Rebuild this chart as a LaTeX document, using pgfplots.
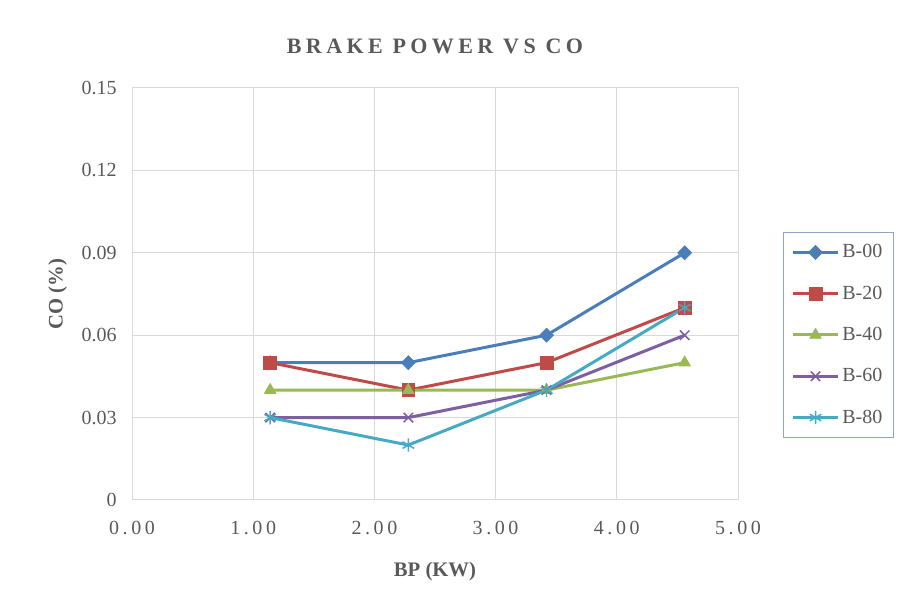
\documentclass[border=0pt]{standalone}
\usepackage{pgfplots}
\pgfplotsset{compat=1.18}
\usepackage{fontspec}
\setmainfont{Liberation Serif}
\newfontfamily\spaced{Liberation Serif}[LetterSpace=18]
\newfontfamily\spacedt{Liberation Serif}[LetterSpace=20]
\definecolor{tx}{HTML}{595959}
\definecolor{c1}{HTML}{4A7EBB}
\definecolor{c2}{HTML}{BE4B48}
\definecolor{c3}{HTML}{98B954}
\definecolor{c4}{HTML}{7D60A0}
\definecolor{c5}{HTML}{46AAC5}
\definecolor{gr}{HTML}{D9D9D9}
\begin{document}
\begin{tikzpicture}
\path[use as bounding box] (-99pt,-78.75pt) rectangle (575.25pt,375pt);
\begin{axis}[
  at={(0,0)}, anchor=south west, scale only axis,
  width=454.5pt, height=309pt,
  xmin=0, xmax=5, ymin=0, ymax=0.15,
  xtick={0,1,2,3,4,5},
  xticklabels={0.00,1.00,2.00,3.00,4.00,5.00},
  ytick={0,0.03,0.06,0.09,0.12,0.15},
  yticklabels={0,0.03,0.06,0.09,0.12,0.15},
  grid=major, major grid style={gr, line width=0.75pt},
  axis line style={gr, line width=0.75pt}, tick style={draw=none},
  ticklabel style={font=\fontsize{15}{17}\selectfont, text=tx},
  xticklabel style={font=\fontsize{15}{17}\selectfont\spaced, yshift=-12pt},
  yticklabel style={xshift=-8pt},
  title={\spacedt\bfseries BRAKE POWER VS CO},
  title style={font=\fontsize{16.5}{19}\selectfont, text=tx, at={(0.5,1)}, yshift=16pt, anchor=south},
  xlabel={\bfseries BP (KW)}, ylabel={\bfseries CO (\%)},
  label style={font=\fontsize{15.5}{18}\selectfont, text=tx},
  xlabel style={yshift=-14pt},
  ylabel style={yshift=4pt},
  legend style={at={(1.074,0.65)}, anchor=north west, draw=c1!55!gr, line width=0.75pt,
    font=\fontsize{15}{17}\selectfont, text=tx, row sep=15.5pt, inner ysep=7pt, inner xsep=6pt,
    cells={anchor=west}},
  legend cell align=left,
  legend image code/.code={\draw[#1,mark repeat=2,mark phase=2] plot coordinates {(0pt,0pt)(17pt,0pt)(34pt,0pt)};},
  every axis plot/.append style={line width=2.25pt},
]
\addplot[c1, mark=square*, mark size=3.7pt, mark options={rotate=45, fill=c1, line width=0.5pt}] coordinates {(1.14,0.05)(2.28,0.05)(3.42,0.06)(4.56,0.09)};
\addlegendentry{B-00}
\addplot[c2, mark=square*, mark size=4.8pt, mark options={fill=c2, line width=0.5pt}] coordinates {(1.14,0.05)(2.28,0.04)(3.42,0.05)(4.56,0.07)};
\addlegendentry{B-20}
\addplot[c3, mark=triangle*, mark size=5pt, mark options={fill=c3, line width=0.5pt}] coordinates {(1.14,0.04)(2.28,0.04)(3.42,0.04)(4.56,0.05)};
\addlegendentry{B-40}
\addplot[c4, mark=x, mark size=5pt, mark options={line width=1.1pt}] coordinates {(1.14,0.03)(2.28,0.03)(3.42,0.04)(4.56,0.06)};
\addlegendentry{B-60}
\addplot[c5, mark=asterisk, mark size=5pt, mark options={line width=1.1pt}] coordinates {(1.14,0.03)(2.28,0.02)(3.42,0.04)(4.56,0.07)};
\addlegendentry{B-80}
\end{axis}
\end{tikzpicture}
\end{document}
